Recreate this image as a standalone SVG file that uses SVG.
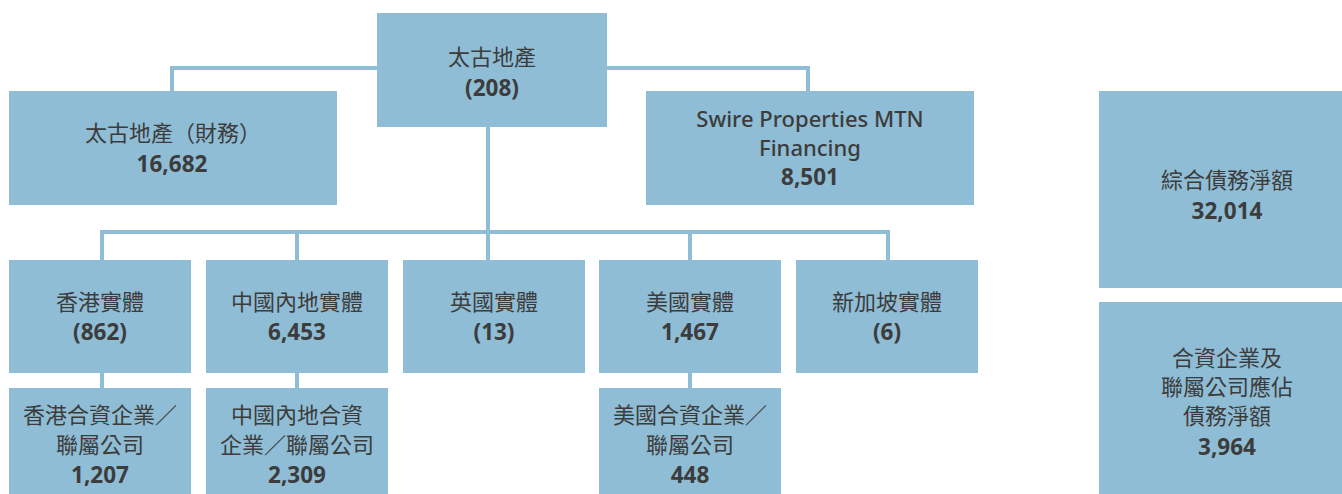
<svg xmlns="http://www.w3.org/2000/svg" width="1342" height="494" viewBox="0 0 1342 494">
<style>
.box{fill:#8fbdd5}
.ln{stroke:#8fbdd5;stroke-width:4;fill:none}
text{font-family:"Noto Sans","Noto Sans CJK TC",sans-serif;fill:#3c3c3c;text-anchor:middle}
.c{font-family:"Noto Sans CJK TC","Noto Sans",sans-serif;font-size:22px;font-weight:400}
.n{font-size:22.5px;font-weight:700}
.e{font-size:22px;font-weight:500}
</style>
<rect width="1342" height="494" fill="#ffffff"/>
<g id="connectors">
<polyline class="ln" points="172,91 172,68 377,68"/>
<polyline class="ln" points="607,68 808,68 808,91"/>
<line class="ln" x1="488" y1="127" x2="488" y2="260"/>
<polyline class="ln" points="102,260 102,232 888,232 888,260"/>
<line class="ln" x1="297" y1="232" x2="297" y2="260"/>
<line class="ln" x1="690" y1="232" x2="690" y2="260"/>
<line class="ln" x1="102" y1="373" x2="102" y2="388"/>
<line class="ln" x1="297" y1="373" x2="297" y2="388"/>
<line class="ln" x1="690" y1="373" x2="690" y2="388"/>
</g>
<g id="root">
<rect class="box" x="377" y="13" width="230" height="114"/>
<text class="c" x="492" y="65">太古地產</text>
<text class="n" x="492" y="96">(208)</text>
</g>
<g id="finance">
<rect class="box" x="9" y="91" width="328" height="114"/>
<text class="c" x="173" y="141">太古地產（財務）</text>
<text class="n" x="172" y="172">16,682</text>
</g>
<g id="mtn">
<rect class="box" x="646" y="91" width="328" height="114"/>
<text class="e" x="810" y="127">Swire Properties MTN</text>
<text class="e" x="810" y="156">Financing</text>
<text class="n" x="810" y="185">8,501</text>
</g>
<g id="total">
<rect class="box" x="1099" y="91" width="250" height="197"/>
<text class="c" x="1227" y="188">綜合債務淨額</text>
<text class="n" x="1227" y="219">32,014</text>
</g>
<g id="jv-total">
<rect class="box" x="1099" y="302" width="250" height="200"/>
<text class="c" x="1227" y="366">合資企業及</text>
<text class="c" x="1227" y="395">聯屬公司應佔</text>
<text class="c" x="1227" y="424">債務淨額</text>
<text class="n" x="1227" y="455">3,964</text>
</g>
<g id="hk">
<rect class="box" x="9" y="260" width="182" height="113"/>
<text class="c" x="100" y="310">香港實體</text>
<text class="n" x="100" y="340">(862)</text>
</g>
<g id="cn">
<rect class="box" x="206" y="260" width="182" height="113"/>
<text class="c" x="297" y="310">中國內地實體</text>
<text class="n" x="297" y="340">6,453</text>
</g>
<g id="uk">
<rect class="box" x="403" y="260" width="182" height="113"/>
<text class="c" x="494" y="310">英國實體</text>
<text class="n" x="494" y="340">(13)</text>
</g>
<g id="us">
<rect class="box" x="599" y="260" width="182" height="113"/>
<text class="c" x="690" y="310">美國實體</text>
<text class="n" x="690" y="340">1,467</text>
</g>
<g id="sg">
<rect class="box" x="796" y="260" width="182" height="113"/>
<text class="c" x="887" y="310">新加坡實體</text>
<text class="n" x="887" y="340">(6)</text>
</g>
<g id="hk-jv">
<rect class="box" x="9" y="388" width="182" height="110"/>
<text class="c" x="100" y="423">香港合資企業／</text>
<text class="c" x="100" y="453">聯屬公司</text>
<text class="n" x="100" y="483">1,207</text>
</g>
<g id="cn-jv">
<rect class="box" x="206" y="388" width="182" height="110"/>
<text class="c" x="297" y="423">中國內地合資</text>
<text class="c" x="297" y="453">企業／聯屬公司</text>
<text class="n" x="297" y="483">2,309</text>
</g>
<g id="us-jv">
<rect class="box" x="599" y="388" width="182" height="110"/>
<text class="c" x="690" y="423">美國合資企業／</text>
<text class="c" x="690" y="453">聯屬公司</text>
<text class="n" x="690" y="483">448</text>
</g>
</svg>
